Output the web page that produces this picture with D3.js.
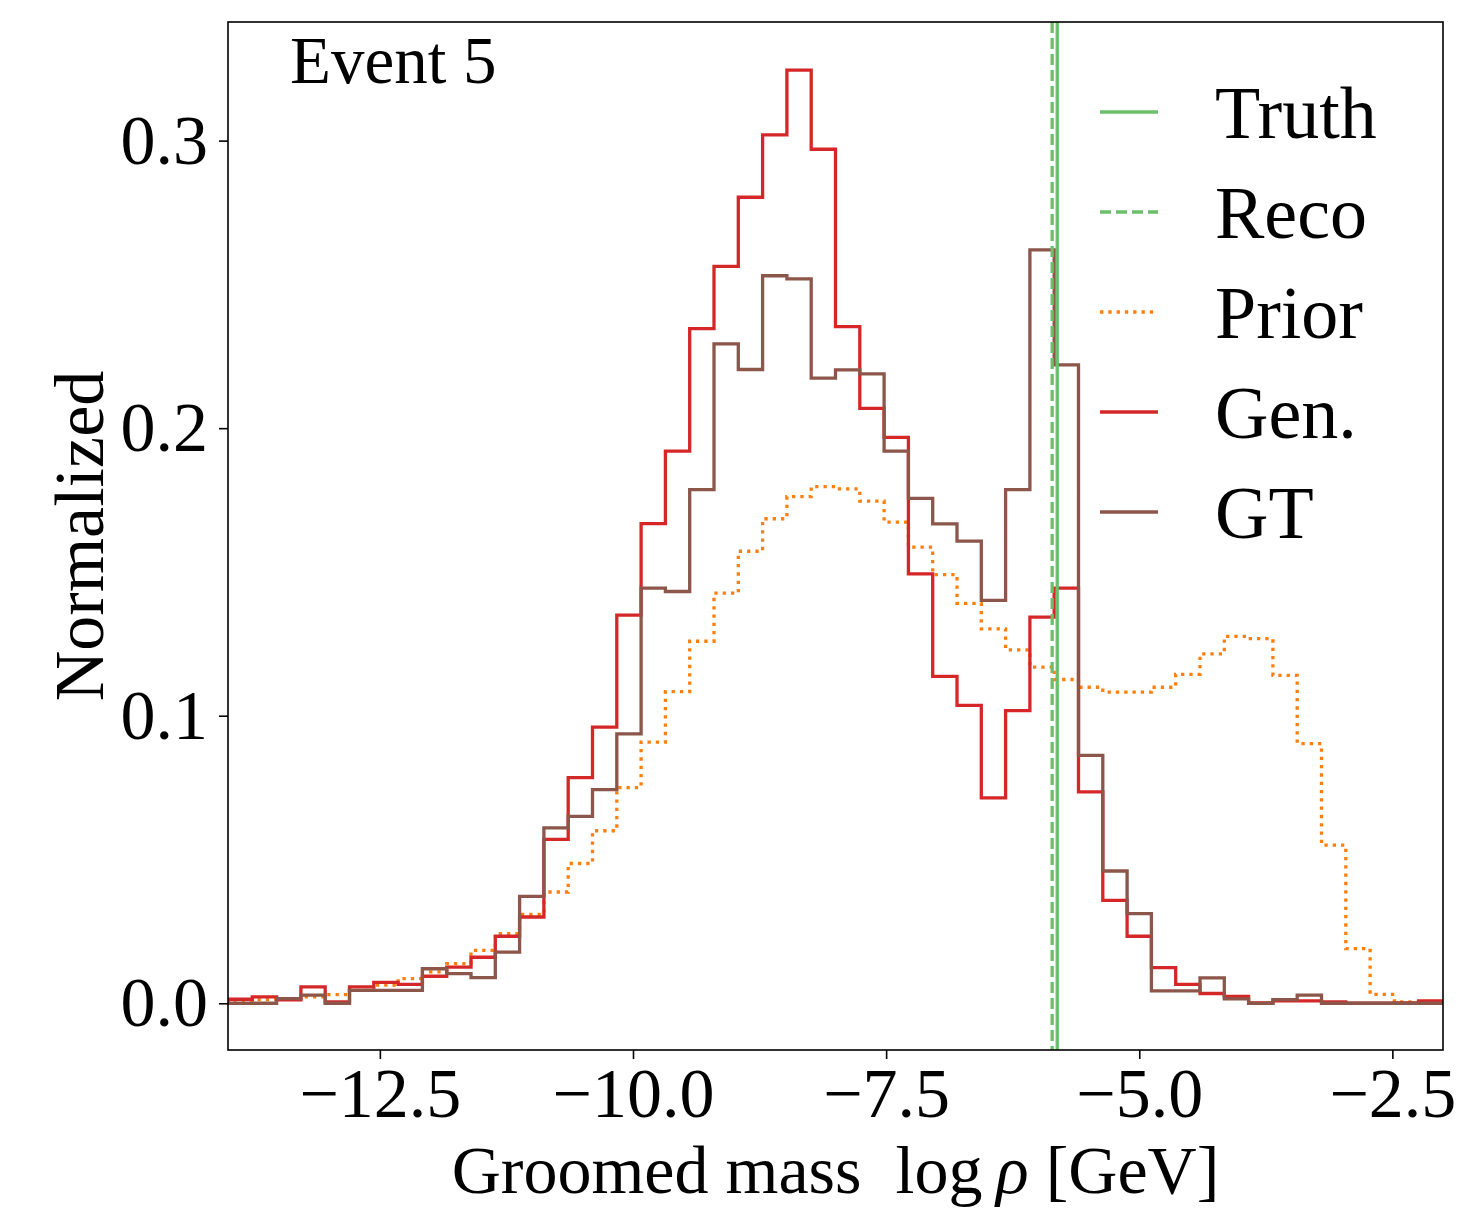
<!DOCTYPE html>
<html>
<head>
<meta charset="utf-8">
<script src="https://cdn.jsdelivr.net/npm/d3@7"></script>
<style>
  html, body { margin: 0; padding: 0; background: #fff; }
  svg text { font-family: "Liberation Serif", "DejaVu Serif", serif; fill: #000; }
</style>
</head>
<body>
<svg id="chart" width="1470" height="1208"></svg>
<script>
// ---- data ----
const binStart = -14;
const binWidth = 0.24;
const gen = [0.0014, 0.0022, 0.0012, 0.0057, 0.0005, 0.0057, 0.0073, 0.0066, 0.0094, 0.0126,
             0.0160, 0.0233, 0.0300, 0.0570, 0.0785, 0.0960, 0.1350, 0.1668, 0.1920, 0.2346,
             0.2563, 0.2803, 0.3020, 0.3245, 0.2970, 0.2353, 0.2069, 0.1968, 0.1493, 0.1137,
             0.1036, 0.0714, 0.1018, 0.1343, 0.1444, 0.0735, 0.0358, 0.0233, 0.0124, 0.0066,
             0.0034, 0.0024, 0.0001, 0.0008, 0.0008, 0.0005, 0.0000, 0.0000, 0.0001, 0.0008];
const gt = [0.0000, 0.0000, 0.0016, 0.0028, 0.0000, 0.0045, 0.0045, 0.0045, 0.0120, 0.0103,
            0.0089, 0.0178, 0.0372, 0.0610, 0.0650, 0.0743, 0.0937, 0.1444, 0.1432, 0.1786,
            0.2293, 0.2204, 0.2530, 0.2519, 0.2174, 0.2203, 0.2189, 0.1920, 0.1756, 0.1667,
            0.1607, 0.1401, 0.1786, 0.2620, 0.2220, 0.0862, 0.0460, 0.0312, 0.0043, 0.0043,
            0.0088, 0.0015, 0.0000, 0.0013, 0.0028, 0.0000, 0.0000, 0.0000, 0.0000, 0.0000];
const prior = [0.0010, 0.0013, 0.0016, 0.0022, 0.0030, 0.0045, 0.0063, 0.0086, 0.0109, 0.0138,
               0.0184, 0.0242, 0.0309, 0.0387, 0.0486, 0.0600, 0.0750, 0.0908, 0.1084, 0.1259,
               0.1426, 0.1572, 0.1685, 0.1762, 0.1797, 0.1789, 0.1746, 0.1673, 0.1586, 0.1491,
               0.1391, 0.1302, 0.1229, 0.1169, 0.1126, 0.1099, 0.1082, 0.1082, 0.1099, 0.1144,
               0.1215, 0.1276, 0.1268, 0.1140, 0.0903, 0.0550, 0.0190, 0.0031, 0.0005, 0.0002];
const truthValue = -5.81;
const recoValue = -5.86;
const xTicks = [-12.5, -10.0, -7.5, -5.0, -2.5];
const yTicks = [0.0, 0.1, 0.2, 0.3];
const legendLabels = ["Truth", "Reco", "Prior", "Gen.", "GT"];

// ---- layout ----
const svg = d3.select("#chart");
const L = 228, R = 1443, T = 22, B = 1050;
const x = d3.scaleLinear().domain([-14, -2]).range([L, R]);
const y = d3.scaleLinear().domain([-0.01625, 0.34125]).range([B, T]);

const colors = { truth: "#6cbf6a", reco: "#6cbf6a", prior: "#ff7f0e", gen: "#d62728", gt: "#8c564b" };
const LW = 3.3;

svg.append("defs").append("clipPath").attr("id", "clip")
  .append("rect").attr("x", L).attr("y", T).attr("width", R - L).attr("height", B - T);

const plot = svg.append("g").attr("clip-path", "url(#clip)");

function stepPoints(vals) {
  const pts = [[binStart, 0]];
  vals.forEach((v, i) => {
    pts.push([binStart + i * binWidth, v]);
    pts.push([binStart + (i + 1) * binWidth, v]);
  });
  pts.push([binStart + vals.length * binWidth, 0]);
  return pts;
}
const line = d3.line().x(d => x(d[0])).y(d => y(d[1]));

plot.append("path").attr("d", line(stepPoints(prior)))
  .attr("fill", "none").attr("stroke", colors.prior).attr("stroke-width", LW)
  .attr("stroke-dasharray", "3.3,5");
plot.append("path").attr("d", line(stepPoints(gen)))
  .attr("fill", "none").attr("stroke", colors.gen).attr("stroke-width", LW)
  .attr("stroke-linejoin", "miter");
plot.append("path").attr("d", line(stepPoints(gt)))
  .attr("fill", "none").attr("stroke", colors.gt).attr("stroke-width", LW)
  .attr("stroke-linejoin", "miter");

plot.append("line").attr("x1", x(recoValue)).attr("x2", x(recoValue)).attr("y1", T).attr("y2", B)
  .attr("stroke", colors.reco).attr("stroke-width", LW).attr("stroke-dasharray", "11,5");
plot.append("line").attr("x1", x(truthValue)).attr("x2", x(truthValue)).attr("y1", T).attr("y2", B)
  .attr("stroke", colors.truth).attr("stroke-width", LW);

// ---- axes ----
const fmt = d => (d < 0 ? "\u2212" : "") + Math.abs(d).toFixed(1);
const xAxis = svg.append("g").attr("transform", `translate(0,${B})`)
  .call(d3.axisBottom(x).tickValues(xTicks).tickFormat(fmt).tickSize(9).tickPadding(8).tickSizeOuter(0));
const yAxis = svg.append("g").attr("transform", `translate(${L},0)`)
  .call(d3.axisLeft(y).tickValues(yTicks).tickFormat(d => d.toFixed(1)).tickSize(9).tickPadding(11).tickSizeOuter(0));
[xAxis, yAxis].forEach(a => {
  a.select(".domain").remove();
  a.selectAll(".tick line").attr("stroke", "#000").attr("stroke-width", 1.6);
  a.selectAll(".tick text").attr("font-size", 70).attr("font-family", "Liberation Serif, serif");
});

// frame
svg.append("rect").attr("x", L).attr("y", T).attr("width", R - L).attr("height", B - T)
  .attr("fill", "none").attr("stroke", "#000").attr("stroke-width", 1.6);

// axis labels
const xl = svg.append("text").attr("x", (L + R) / 2).attr("y", 1193).attr("text-anchor", "middle")
  .attr("font-size", 68);
xl.append("tspan").text("Groomed mass\u2002log\u2009");
xl.append("tspan").attr("font-style", "italic").text("\u03c1");
xl.append("tspan").text(" [GeV]");

svg.append("text").attr("transform", `translate(103,${(T + B) / 2}) rotate(-90)`)
  .attr("text-anchor", "middle").attr("font-size", 70).text("Normalized");

// event label
svg.append("text").attr("x", 290).attr("y", 83).attr("font-size", 67).text("Event 5");

// ---- legend ----
const legendStyles = [
  { color: colors.truth, dash: null },
  { color: colors.reco, dash: "11,5" },
  { color: colors.prior, dash: "3.3,5" },
  { color: colors.gen, dash: null },
  { color: colors.gt, dash: null }
];
const lg = svg.append("g");
legendLabels.forEach((lab, i) => {
  const yy = 112 + i * 100;
  const s = legendStyles[i];
  const ln = lg.append("line").attr("x1", 1100).attr("x2", 1158).attr("y1", yy).attr("y2", yy)
    .attr("stroke", s.color).attr("stroke-width", LW);
  if (s.dash) ln.attr("stroke-dasharray", s.dash);
  lg.append("text").attr("x", 1215).attr("y", yy + 26).attr("font-size", 74).text(lab);
});
</script>
</body>
</html>
